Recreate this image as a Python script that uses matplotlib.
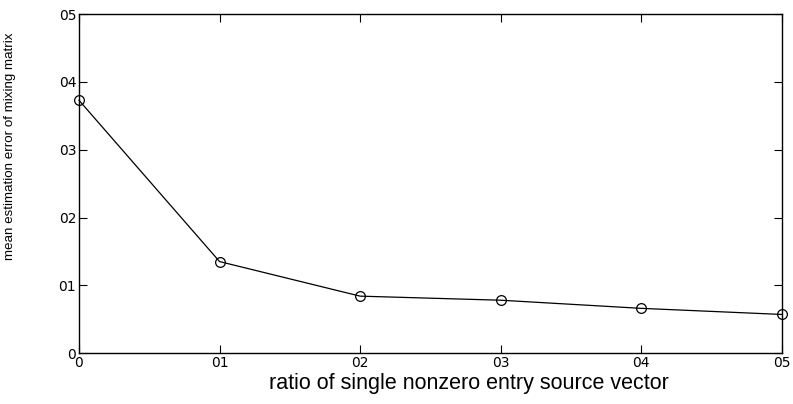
import matplotlib
matplotlib.use("Agg")
import matplotlib.pyplot as plt

# data
ratio = [0.0, 0.1, 0.2, 0.3, 0.4, 0.5]
error = [0.373, 0.135, 0.084, 0.078, 0.066, 0.057]

x_ticks = [0.0, 0.1, 0.2, 0.3, 0.4, 0.5]
x_tick_labels = ["0", "01", "02", "03", "04", "05"]
y_ticks = [0.0, 0.1, 0.2, 0.3, 0.4, 0.5]
y_tick_labels = ["0", "01", "02", "03", "04", "05"]

fig = plt.figure(figsize=(7.93, 4.04), dpi=100)
ax = fig.add_axes([0.0996, 0.126, 0.8864, 0.839])

ax.plot(ratio, error, color="black", linewidth=0.9, marker="o",
        markersize=7, markerfacecolor="none", markeredgecolor="black",
        markeredgewidth=0.9, clip_on=False, zorder=3)

ax.set_xlim(0, 0.5)
ax.set_ylim(0, 0.5)
ax.set_xticks(x_ticks)
ax.set_xticklabels(x_tick_labels)
ax.set_yticks(y_ticks)
ax.set_yticklabels(y_tick_labels)

ax.tick_params(direction="in", length=6, width=0.8, top=True, right=True,
               labelsize=10)
ax.tick_params(axis="x", pad=2)
ax.tick_params(axis="y", pad=2)
for lbl in ax.get_xticklabels() + ax.get_yticklabels():
    lbl.set_fontfamily("DejaVu Sans")

for s in ax.spines.values():
    s.set_linewidth(1.0)

ax.set_xlabel("ratio of single nonzero entry source vector",
              fontsize=15.5, family="Liberation Sans")
ax.xaxis.set_label_coords(0.555, -0.058)
ax.set_ylabel("mean estimation error of mixing matrix",
              fontsize=9.6, family="Liberation Sans")
ax.yaxis.set_label_coords(-0.089, 0.609)

fig.savefig("out.png", dpi=100)
